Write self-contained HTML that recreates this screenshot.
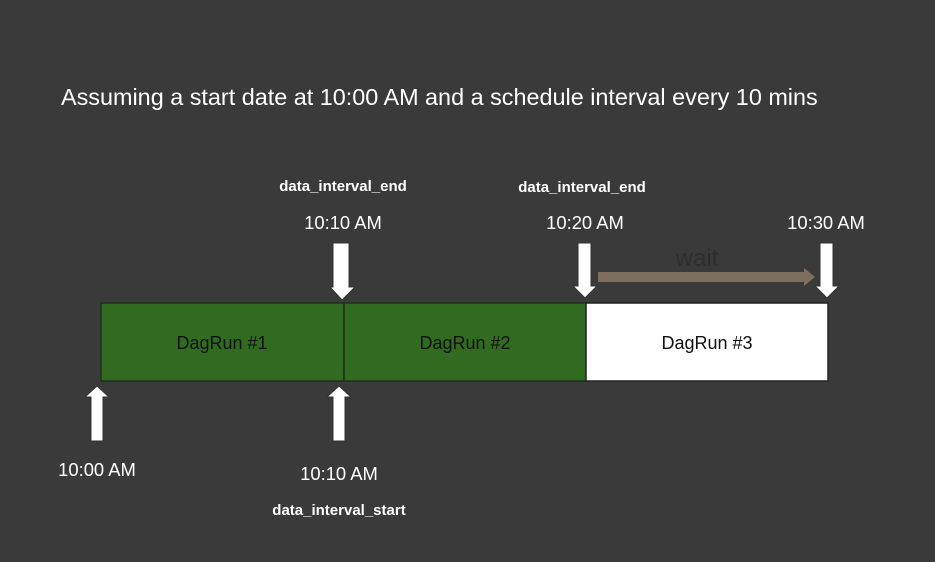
<!DOCTYPE html>
<html><head><meta charset="utf-8"><style>
html,body{margin:0;padding:0;background:#3a3a3a;}
svg{display:block;font-family:"Liberation Sans",Arial,sans-serif;}
</style></head><body>
<svg width="935" height="562" viewBox="0 0 935 562" xmlns="http://www.w3.org/2000/svg">
<rect width="935" height="562" fill="#3a3a3a"/>
<text x="61" y="105" fill="#fff" font-size="23.4">Assuming a start date at 10:00 AM and a schedule interval every 10 mins</text>
<rect x="101" y="303" width="243" height="78" fill="#316b1f" stroke="#1f2f1a" stroke-width="1.5"/>
<rect x="344" y="303" width="242" height="78" fill="#316b1f" stroke="#1f2f1a" stroke-width="1.5"/>
<rect x="586" y="303" width="242" height="78" fill="#fff" stroke="#222" stroke-width="1.5"/>
<g font-size="18" text-anchor="middle" fill="#111">
<text x="222" y="349">DagRun #1</text>
<text x="465" y="349">DagRun #2</text>
<text x="707" y="349">DagRun #3</text>
</g>
<g fill="#fff" stroke="#333" stroke-width="1">
<polygon points="333,243 349,243 349,287 355,287 342,300 330,287 333,287"/>
<polygon points="578,243 591,243 591,286 597,286 585,298 573,286 578,286"/>
<polygon points="820,243 833,243 833,286 839,286 827,298 815,286 820,286"/>
<polygon points="91,441 103,441 103,397 109,397 97,386 85,397 91,397"/>
<polygon points="333,441 345,441 345,397 351,397 339,386 327,397 333,397"/>
</g>
<polygon points="598,272 804,272 804,268 815,277 804,286 804,282 598,282" fill="#7d6e5e"/>
<text x="697" y="266" font-size="24" fill="#2e2e2e" text-anchor="middle">wait</text>
<g fill="#fff" text-anchor="middle">
<text x="343" y="191" font-size="15" font-weight="bold">data_interval_end</text>
<text x="582" y="192" font-size="15" font-weight="bold">data_interval_end</text>
<text x="339" y="515" font-size="15" font-weight="bold">data_interval_start</text>
<g font-size="18.4">
<text x="343" y="229">10:10 AM</text>
<text x="585" y="229">10:20 AM</text>
<text x="826" y="229">10:30 AM</text>
<text x="97" y="476">10:00 AM</text>
<text x="339" y="480">10:10 AM</text>
</g>
</g>
</svg>
</body></html>
